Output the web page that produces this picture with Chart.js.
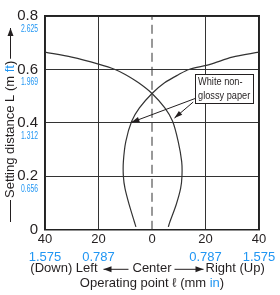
<!DOCTYPE html>
<html>
<head>
<meta charset="utf-8">
<script src="https://cdn.jsdelivr.net/npm/chart.js@4"></script>
<style>
  html, body { margin: 0; padding: 0; background: #fff; }
  #wrap { width: 280px; height: 295px; position: relative; }
</style>
</head>
<body>
<div id="wrap"><canvas id="c"></canvas></div>
<script>
// --- data ---
// curve coming down from the top-left, ending right of center
const curveAX = [-40, -30, -20, -13.8, -10, -5, 0, 4.8, 7.7, 9.8, 11.1, 11.2, 10.7, 9.0, 6.7, 6.1];
const curveAY = [0.665, 0.646, 0.62, 0.6, 0.581, 0.55, 0.51, 0.456, 0.406, 0.33, 0.255, 0.2, 0.155, 0.093, 0.03, 0.011];
// curve coming down from the top-right, ending left of center
const curveBX = [40, 30, 21.7, 13.8, 10, 4.7, 0, -4.7, -7.6, -9.8, -10.7, -10.7, -10.1, -8.5, -6.6, -6.0];
const curveBY = [0.665, 0.646, 0.619, 0.6, 0.581, 0.55, 0.51, 0.456, 0.406, 0.33, 0.255, 0.2, 0.155, 0.093, 0.03, 0.011];

const xTicks = [-40, -20, 0, 20, 40];
const xInchLabels = ['1.575', '0.787', '', '0.787', '1.575'];
const yTicks = [0, 0.2, 0.4, 0.6, 0.8];
const yFtLabels = ['', '0.656', '1.312', '1.969', '2.625'];

// annotation in data units: box corners and the two leader lines
const noteBox = { x0: 16.1, y0: 0.582, x1: 37.8, y1: 0.473 };
const noteLines = ['White non-', 'glossy paper'];
const leaderFrom = [[16.3, 0.492], [15.4, 0.478]];
const leaderTo = [[-7.7, 0.402], [8.4, 0.418]];

const BLUE = '#2196f3';
const INK = '#231f20';
const FONT = '"Liberation Sans", Arial, sans-serif';
const NARROW = '"Liberation Sans Narrow", "Liberation Sans", Arial, sans-serif';

function pts(xs, ys) { return xs.map((v, i) => ({ x: v, y: ys[i] })); }

function arrowHead(ctx, x0, y0, x1, y1, len, half) {
  const a = Math.atan2(y1 - y0, x1 - x0);
  ctx.beginPath();
  ctx.moveTo(x1, y1);
  ctx.lineTo(x1 - len * Math.cos(a) + half * Math.sin(a), y1 - len * Math.sin(a) - half * Math.cos(a));
  ctx.lineTo(x1 - len * Math.cos(a) - half * Math.sin(a), y1 - len * Math.sin(a) + half * Math.cos(a));
  ctx.closePath();
  ctx.fill();
}

function arrow(ctx, x0, y0, x1, y1, len, half) {
  ctx.beginPath();
  ctx.moveTo(x0, y0);
  ctx.lineTo(x1, y1);
  ctx.stroke();
  arrowHead(ctx, x0, y0, x1, y1, len, half);
}

const extras = {
  id: 'extras',
  afterDraw(chart) {
    const { ctx, chartArea: a, scales: { x, y } } = chart;
    ctx.save();
    ctx.strokeStyle = INK;
    ctx.fillStyle = INK;
    ctx.lineWidth = 1;

    // blue ft labels under the y ticks (condensed)
    ctx.fillStyle = BLUE;
    ctx.font = '10px ' + FONT;
    ctx.textAlign = 'right';
    ctx.textBaseline = 'middle';
    yTicks.forEach((v, i) => {
      if (!yFtLabels[i]) return;
      ctx.save();
      ctx.translate(38, y.getPixelForValue(v) + 13);
      ctx.scale(0.68, 1);
      ctx.fillText(yFtLabels[i], 0, 0);
      ctx.restore();
    });

    // annotation box
    const bx0 = x.getPixelForValue(noteBox.x0), by0 = y.getPixelForValue(noteBox.y0);
    const bx1 = x.getPixelForValue(noteBox.x1), by1 = y.getPixelForValue(noteBox.y1);
    ctx.fillStyle = '#fff';
    ctx.fillRect(bx0, by0, bx1 - bx0, by1 - by0);
    ctx.strokeStyle = INK;
    ctx.strokeRect(Math.round(bx0) + 0.5, Math.round(by0) + 0.5, Math.round(bx1 - bx0), Math.round(by1 - by0));
    ctx.fillStyle = INK;
    ctx.textAlign = 'left';
    ctx.font = '10px ' + NARROW;
    noteLines.forEach((t, i) => {
      ctx.save();
      ctx.translate(bx0 + 3, by0 + 8 + i * 14);
      ctx.scale(0.92, 1);
      ctx.fillText(t, 0, 0);
      ctx.restore();
    });
    leaderFrom.forEach((p, i) => {
      arrow(ctx, x.getPixelForValue(p[0]), y.getPixelForValue(p[1]),
        x.getPixelForValue(leaderTo[i][0]), y.getPixelForValue(leaderTo[i][1]), 8, 2.6);
    });

    // x title, line 1 with arrows
    const ly = a.bottom + 39;
    ctx.font = '13px ' + FONT;
    ctx.textBaseline = 'middle';
    const xl = x.getPixelForValue(-20), xc = x.getPixelForValue(0), xr = x.getPixelForValue(20);
    ctx.textAlign = 'right';
    ctx.fillText('(Down) Left', xl - 1, ly);
    ctx.textAlign = 'center';
    ctx.fillText('Center', xc, ly);
    ctx.textAlign = 'left';
    ctx.fillText('Right (Up)', xr, ly);
    const cw = ctx.measureText('Center').width;
    arrow(ctx, xc - cw / 2 - 4, ly + 0.5, xl + 5, ly + 0.5, 8, 3);
    arrow(ctx, xc + cw / 2 + 3, ly + 0.5, xr - 2, ly + 0.5, 8, 3);

    // x title, line 2 with blue unit
    const ly2 = ly + 15;
    const p1 = 'Operating point \u2113 (mm ', p2 = 'in', p3 = ')';
    const w1 = ctx.measureText(p1).width, w2 = ctx.measureText(p2).width, w3 = ctx.measureText(p3).width;
    let sx = (a.left + a.right) / 2 - (w1 + w2 + w3) / 2;
    ctx.textAlign = 'left';
    ctx.fillText(p1, sx, ly2);
    ctx.fillStyle = BLUE;
    ctx.fillText(p2, sx + w1, ly2);
    ctx.fillStyle = INK;
    ctx.fillText(p3, sx + w1 + w2, ly2);

    // y title, rotated, with lead line and up arrow
    ctx.save();
    ctx.translate(10, 0);
    ctx.rotate(-Math.PI / 2);
    const q1 = 'Setting distance L (m ', q2 = 'ft', q3 = ')';
    const v1 = ctx.measureText(q1).width, v2 = ctx.measureText(q2).width;
    const v3 = ctx.measureText(q3).width;
    const start = -198; // rotated coords: -y
    ctx.textAlign = 'left';
    ctx.fillText(q1, start, 0);
    ctx.fillStyle = BLUE;
    ctx.fillText(q2, start + v1, 0);
    ctx.fillStyle = INK;
    ctx.fillText(q3, start + v1 + v2, 0);
    ctx.beginPath();
    ctx.moveTo(-222, 0.5);
    ctx.lineTo(start - 2, 0.5);
    ctx.stroke();
    const end = start + v1 + v2 + v3;
    arrow(ctx, end + 2, 0.5, -28, 0.5, 8, 3);
    ctx.restore();

    ctx.restore();
  }
};

new Chart(document.getElementById('c'), {
  type: 'scatter',
  data: {
    datasets: [
      { data: pts(curveAX, curveAY), showLine: true, borderColor: '#333', borderWidth: 1.2, pointRadius: 0, tension: 0.3 },
      { data: pts(curveBX, curveBY), showLine: true, borderColor: '#333', borderWidth: 1.2, pointRadius: 0, tension: 0.3 },
      { data: pts([0, 0], [0, 0.8]), showLine: true, borderColor: '#333', borderWidth: 1, borderDash: [9, 5], pointRadius: 0 }
    ]
  },
  options: {
    responsive: true,
    maintainAspectRatio: false,
    animation: false,
    layout: { padding: { top: 8, right: 21, bottom: 30, left: 0 } },
    plugins: { legend: { display: false }, tooltip: { enabled: false } },
    scales: {
      x: {
        type: 'linear', min: -40, max: 40, weight: 0,
        afterBuildTicks: s => { s.ticks = xTicks.map(v => ({ value: v })); },
        ticks: { color: INK, font: { family: FONT, size: 13 }, padding: 2, maxRotation: 0,
          callback: v => String(Math.abs(v)) },
        grid: { color: c => (c.tick && c.tick.value === 0 ? 'rgba(0,0,0,0)' : '#333'), lineWidth: 1, drawTicks: false },
        border: { color: '#222', width: 1.5 }
      },
      x2: {
        type: 'linear', position: 'bottom', min: -40, max: 40, weight: 1,
        afterBuildTicks: s => { s.ticks = xTicks.map(v => ({ value: v })); },
        ticks: { color: BLUE, font: { family: FONT, size: 13 }, padding: 0, maxRotation: 0,
          callback: (v, i) => xInchLabels[i] },
        grid: { display: false, drawTicks: false },
        border: { display: false }
      },
      y: {
        type: 'linear', min: 0, max: 0.8,
        afterBuildTicks: s => { s.ticks = yTicks.map(v => ({ value: v })); },
        afterFit: s => { s.width = 45; },
        ticks: { color: INK, font: { family: NARROW, size: 15 }, padding: 7,
          callback: v => (v === 0 ? '0' : v.toFixed(1)) },
        grid: { color: '#333', lineWidth: 1, drawTicks: false },
        border: { color: '#222', width: 1.5 }
      },
      y2: {
        type: 'linear', position: 'right', min: 0, max: 0.8,
        ticks: { display: false },
        grid: { display: false, drawTicks: false },
        border: { color: '#222', width: 1.5 },
        afterFit: s => { s.width = 0; }
      },
      x3: {
        type: 'linear', position: 'top', min: -40, max: 40,
        ticks: { display: false },
        grid: { display: false, drawTicks: false },
        border: { color: '#222', width: 1.5 },
        afterFit: s => { s.height = 0; }
      }
    }
  },
  plugins: [extras]
});
</script>
</body>
</html>
